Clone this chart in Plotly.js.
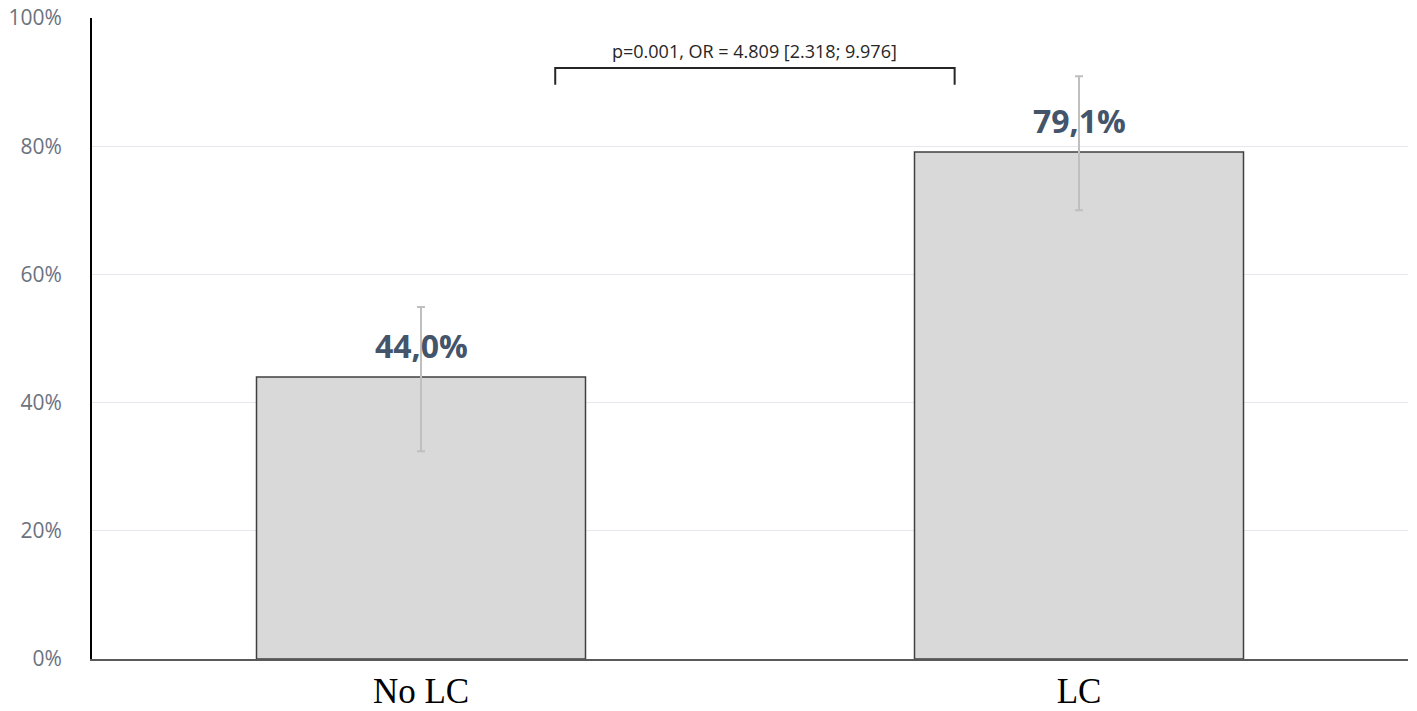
<!DOCTYPE html>
<html>
<head>
<meta charset="utf-8">
<script src="https://cdn.plot.ly/plotly-3.0.1.min.js"></script>
<style>
  html, body { margin: 0; padding: 0; background: #fff; }
  #chart { width: 1417px; height: 711px; }
</style>
</head>
<body>
<div id="chart"></div>
<script>
const categories = ['No LC', 'LC'];
const values = [44.0, 79.1];
const valueLabels = ['44,0%', '79,1%'];
const errPlus = [10.9, 11.8];
const errMinus = [11.6, 9.1];
const yTicks = [0, 20, 40, 60, 80, 100];
const yTickText = ['0%', '20%', '40%', '60%', '80%', '100%'];
const statText = 'p=0.001, OR = 4.809 [2.318; 9.976]';

const barTrace = {
    x: [0, 1],
    y: values,
    type: 'bar',
    width: 0.5,
    marker: { color: '#d9d9d9', line: { color: '#404040', width: 1.5 } },
    error_y: {
        type: 'data',
        symmetric: false,
        array: errPlus,
        arrayminus: errMinus,
        color: '#bfbfbf',
        thickness: 2,
        width: 4
    },
    hoverinfo: 'skip'
};

// value labels above bars
const labelAnns = values.map((v, i) => ({
    x: i, y: v, xref: 'x', yref: 'y',
    text: valueLabels[i],
    showarrow: false,
    yanchor: 'bottom',
    yshift: 8,
    font: { family: 'Open Sans, sans-serif', size: 32, color: '#44546a', weight: 'bold' }
}));

const statAnn = {
    x: 0.507, y: 92.2, xref: 'x', yref: 'y',
    text: statText,
    showarrow: false,
    yanchor: 'bottom',
    yshift: 3,
    font: { family: 'Open Sans, sans-serif', size: 18, color: '#262626' }
};

// significance bracket
const bracket = {
    type: 'path',
    xref: 'x', yref: 'y',
    path: 'M 0.204 89.6 L 0.204 92.2 L 0.811 92.2 L 0.811 89.6',
    line: { color: '#262626', width: 2 }
};

const layout = {
    width: 1417,
    height: 711,
    margin: { l: 92, r: 9, t: 18, b: 52 },
    paper_bgcolor: '#ffffff',
    plot_bgcolor: '#ffffff',
    showlegend: false,
    xaxis: {
        range: [-0.5, 1.5],
        tickvals: [0, 1],
        ticktext: categories,
        tickfont: { family: 'Liberation Serif, serif', size: 35, color: '#000000' },
        showline: true,
        linecolor: '#595959',
        linewidth: 2,
        showgrid: false,
        zeroline: false,
        ticks: '',
        ticklabelstandoff: 0,
        fixedrange: true
    },
    yaxis: {
        range: [0, 100],
        tickvals: yTicks,
        ticktext: yTickText,
        tickfont: { family: 'Open Sans, sans-serif', size: 21, color: '#6b7280' },
        showline: true,
        linecolor: '#000000',
        linewidth: 2,
        showgrid: true,
        gridcolor: '#e4e8ee',
        gridwidth: 1,
        zeroline: false,
        ticks: '',
        ticklabelstandoff: 24,
        fixedrange: true
    },
    shapes: [bracket],
    annotations: [...labelAnns, statAnn]
};

Plotly.newPlot('chart', [barTrace], layout, { displayModeBar: false, staticPlot: true });
</script>
</body>
</html>
